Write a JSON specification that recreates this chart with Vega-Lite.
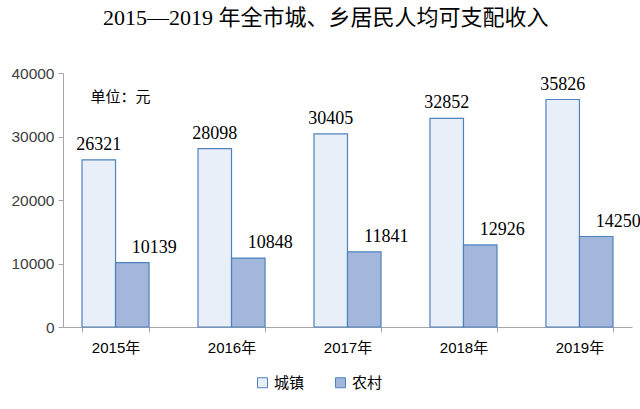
{
  "$schema": "https://vega.github.io/schema/vega-lite/v6.json",
  "autosize": {"type": "none"},
  "padding": {"left": 63, "top": 73, "right": 8, "bottom": 82},
  "width": 569,
  "height": 254,
  "background": "white",
  "title": {
    "text": "2015—2019 年全市城、乡居民人均可支配收入",
    "font": "Liberation Serif, Noto Sans CJK SC",
    "fontSize": 22,
    "fontWeight": "normal",
    "color": "#000000",
    "anchor": "middle",
    "offset": 36,
    "frame": "bounds"
  },
  "config": {
    "view": {"stroke": null},
    "axis": {"labelFont": "Liberation Sans, Noto Sans CJK SC"}
  },
  "data": {
    "values": [
      {"year": "2015年", "type": "城镇", "value": 26321},
      {"year": "2015年", "type": "农村", "value": 10139},
      {"year": "2016年", "type": "城镇", "value": 28098},
      {"year": "2016年", "type": "农村", "value": 10848},
      {"year": "2017年", "type": "城镇", "value": 30405},
      {"year": "2017年", "type": "农村", "value": 11841},
      {"year": "2018年", "type": "城镇", "value": 32852},
      {"year": "2018年", "type": "农村", "value": 12926},
      {"year": "2019年", "type": "城镇", "value": 35826},
      {"year": "2019年", "type": "农村", "value": 14250}
    ]
  },
  "encoding": {
    "x": {
      "field": "year",
      "type": "nominal",
      "scale": {"paddingInner": 0.422, "paddingOuter": 0.164},
      "axis": {
        "title": null,
        "labelAngle": 0,
        "labelFontSize": 15,
        "labelColor": "#000000",
        "labelPadding": 8,
        "domainColor": "#a6a6a6",
        "tickColor": "#a6a6a6",
        "tickBand": "extent",
        "tickSize": 5,
        "labelFont": "Liberation Sans, Noto Sans CJK SC"
      }
    }
  },
  "layer": [
    {
      "mark": {"type": "bar", "stroke": "#4f81bd", "strokeWidth": 1.2},
      "encoding": {
        "xOffset": {"field": "type", "type": "nominal", "sort": ["城镇", "农村"], "scale": {"paddingInner": 0, "paddingOuter": 0}},
        "y": {
          "field": "value",
          "type": "quantitative",
          "scale": {"domain": [0, 40000]},
          "axis": {
            "title": null,
            "values": [0, 10000, 20000, 30000, 40000],
            "format": "d",
            "grid": false,
            "labelFontSize": 15.5,
            "labelColor": "#404040",
            "domainColor": "#a6a6a6",
            "tickColor": "#a6a6a6",
            "tickSize": 5,
            "labelPadding": 4
          }
        },
        "fill": {
          "field": "type",
          "type": "nominal",
          "sort": ["城镇", "农村"],
          "scale": {"domain": ["城镇", "农村"], "range": ["#e9eff8", "#a3b7dd"]},
          "legend": {
            "title": null,
            "orient": "none",
            "legendX": 192,
            "legendY": 302,
            "direction": "horizontal",
            "symbolType": "square",
            "symbolSize": 100,
            "symbolStrokeColor": "#4f81bd",
            "symbolStrokeWidth": 1,
            "labelFontSize": 15,
            "labelFont": "Noto Sans CJK SC",
            "labelColor": "#000000",
            "columnPadding": 28
          }
        }
      }
    },
    {
      "transform": [{"filter": "datum.type === '城镇'"}],
      "mark": {"type": "text", "font": "Liberation Serif", "fontSize": 18, "baseline": "bottom", "dy": -6, "color": "#000000"},
      "encoding": {
        "xOffset": {"field": "type", "type": "nominal", "scale": {"domain": ["城镇", "农村"]}},
        "y": {"field": "value", "type": "quantitative"},
        "text": {"field": "value", "type": "quantitative", "format": "d"}
      }
    },
    {
      "transform": [{"filter": "datum.type === '农村'"}],
      "mark": {"type": "text", "font": "Liberation Serif", "fontSize": 18, "baseline": "bottom", "dy": -6, "dx": 22, "color": "#000000"},
      "encoding": {
        "xOffset": {"field": "type", "type": "nominal", "scale": {"domain": ["城镇", "农村"]}},
        "y": {"field": "value", "type": "quantitative"},
        "text": {"field": "value", "type": "quantitative", "format": "d"}
      }
    },
    {
      "data": {"values": [{"label": "单位：元"}]},
      "mark": {"type": "text", "font": "Noto Sans CJK SC", "fontSize": 15, "align": "left", "baseline": "middle", "dx": -25, "color": "#000000"},
      "encoding": {
        "x": {"datum": "2015年"},
        "y": {"datum": 36200},
        "text": {"field": "label"}
      }
    }
  ]
}
